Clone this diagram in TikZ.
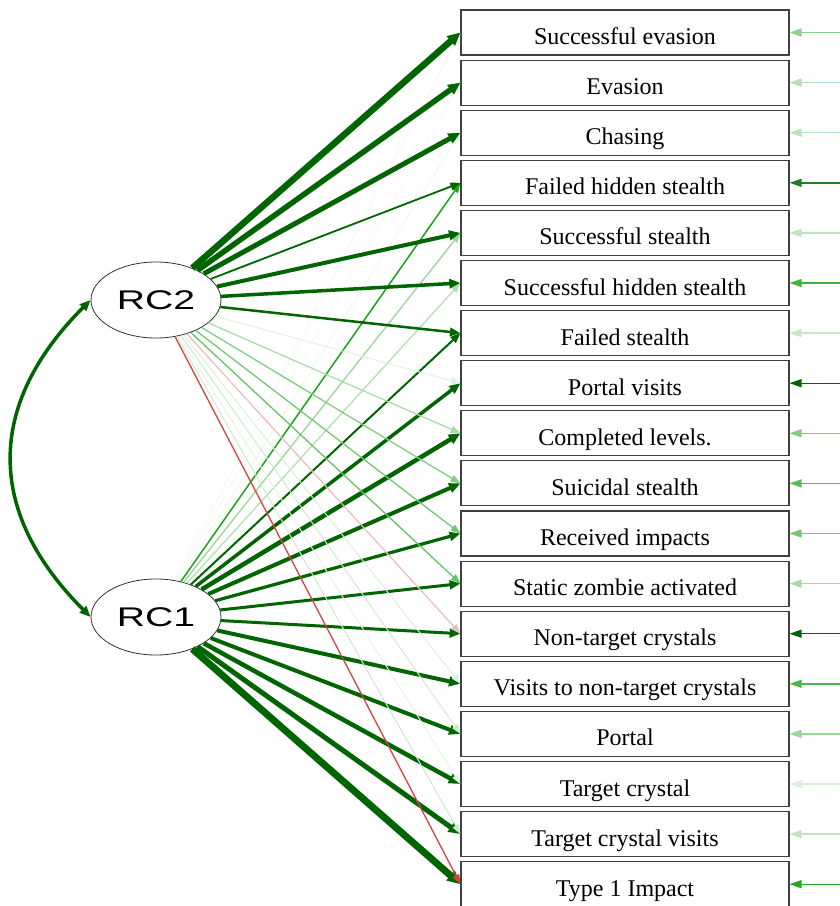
\documentclass[tikz,border=0pt]{standalone}
\usepackage{fontspec}
\setmainfont{Liberation Serif}
\newfontfamily\rcfont{Liberation Sans}
\usepackage{graphicx}
\usetikzlibrary{positioning,shapes.geometric,arrows.meta}
\definecolor{darkpos}{RGB}{0,100,0}
\definecolor{pos}{RGB}{0,153,0}
\definecolor{neg}{RGB}{200,20,20}
\tikzset{
  obsbox/.style={draw=black!75, line width=1.1pt, minimum width=328pt, minimum height=45pt,
    inner sep=0pt, text height=24pt, text depth=0pt, font=\fontsize{24}{28}\selectfont},
  latent/.style={ellipse, draw=black!80, line width=0.8pt, fill=white, minimum width=130pt,
    minimum height=76pt, inner sep=0pt, font=\rcfont\fontsize{27}{30}\selectfont},
  load/.style={-{Triangle[length=9pt 0.6,width=6pt 0.9]}},
  resid/.style={-{Triangle[length=12pt,width=8pt]}, line width=1.4pt},
}

\begin{document}
\begin{tikzpicture}[x=1pt,y=-1pt]
  \useasboundingbox (0,0) rectangle (840,906);
  \node[latent] (rc2) at (156,300) {\scalebox{1.45}[1]{RC2}};
  \node[latent] (rc1) at (156,617) {\scalebox{1.45}[1]{RC1}};

  % observed variables
  \coordinate (m0) at (625,5.45);
  \foreach \lab [count=\i, remember=\i as \j (initially 0)] in
    {Successful evasion, Evasion, Chasing, Failed hidden stealth, Successful stealth,
     Successful hidden stealth, Failed stealth, Portal visits, Completed levels.,
     Suicidal stealth, Received impacts, Static zombie activated, Non-target crystals,
     Visits to non-target crystals, Portal, Target crystal, Target crystal visits, Type 1 Impact}
    \node[obsbox, below=4pt of m\j] (m\i) {\lab};

  % loadings
  \foreach \t/\w/\c in {1/0.8/neg!6, 2/0.8/pos!6, 3/0.8/pos!8, 4/1.5/pos!90, 5/1.3/pos!40,
      6/1.3/pos!30, 7/2/darkpos, 8/3.5/darkpos, 9/4.5/darkpos, 10/4/darkpos, 11/3.2/darkpos,
      12/3/darkpos, 13/3/darkpos, 14/4/darkpos, 15/4/darkpos, 16/4.5/darkpos, 17/5/darkpos,
      18/7/darkpos}
    \draw[load, line width=\w pt, \c] (rc1) -- (m\t.west);
  \foreach \t/\w/\c in {1/6.5/darkpos, 2/5.5/darkpos, 3/5/darkpos, 4/1.8/darkpos, 5/4/darkpos,
      6/3.5/darkpos, 7/2.5/darkpos, 8/1/pos!12, 9/1.2/pos!35, 10/1.3/pos!50, 11/1.3/pos!55,
      12/1.3/pos!60, 13/1.2/neg!30, 14/1/pos!15, 15/1/pos!20, 16/1/pos!10, 17/1/pos!20,
      18/1.3/neg!80}
    \draw[load, line width=\w pt, \c] (rc2) -- (m\t.west);

  % residuals
  \foreach \t/\c in {1/pos!45, 2/pos!30, 3/pos!28, 4/darkpos!85, 5/pos!25, 6/pos!75, 7/pos!22,
      8/darkpos, 9/pos!50, 10/pos!65, 11/pos!55, 12/pos!35, 13/darkpos, 14/pos!70, 15/pos!40,
      16/pos!15, 17/pos!25, 18/pos!85} {
    \coordinate (r\t) at (845,0 |- m\t.east);
    \draw[resid, \c] (r\t) -- (m\t.east);
  }

  % factor covariance
  \draw[{Triangle[length=11pt,width=9pt]}-{Triangle[length=11pt,width=9pt]}, line width=3.5pt, darkpos]
    (rc2.west) to[out=225,in=135,looseness=1.2] (rc1.west);
\end{tikzpicture}
\end{document}
